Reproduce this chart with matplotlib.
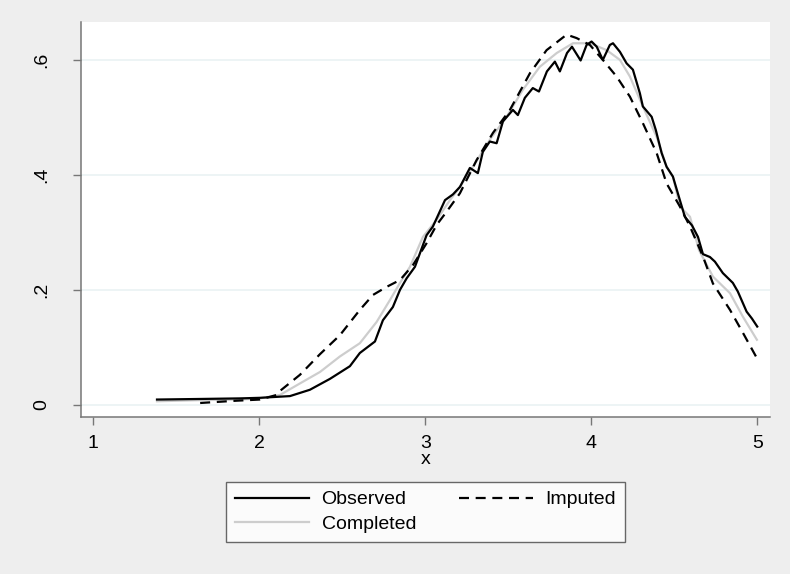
import numpy as np
import matplotlib
matplotlib.use("Agg")
from matplotlib import pyplot as plt

plt.rcParams['font.family'] = ['Liberation Sans', 'DejaVu Sans']

# observed density (black, wiggly)
obs_x = [1.384, 1.643, 1.884, 2.004, 2.185, 2.305, 2.426, 2.546, 2.606, 2.697,
         2.745, 2.805, 2.848, 2.888, 2.938, 3.008, 3.046, 3.119, 3.167, 3.209,
         3.269, 3.317, 3.347, 3.389, 3.430, 3.468, 3.528, 3.558, 3.600, 3.648,
         3.685, 3.733, 3.781, 3.811, 3.854, 3.884, 3.936, 3.972, 4.002, 4.033,
         4.070, 4.112, 4.131, 4.173, 4.213, 4.251, 4.293, 4.311, 4.364, 4.389,
         4.424, 4.454, 4.492, 4.534, 4.564, 4.607, 4.643, 4.673, 4.715, 4.745,
         4.793, 4.853, 4.883, 4.936, 4.968, 5.000]
obs_y = [0.009, 0.010, 0.011, 0.012, 0.015, 0.026, 0.045, 0.067, 0.090, 0.110,
         0.147, 0.170, 0.200, 0.220, 0.240, 0.295, 0.310, 0.356, 0.366, 0.379,
         0.412, 0.403, 0.440, 0.458, 0.455, 0.493, 0.513, 0.504, 0.534, 0.551,
         0.545, 0.580, 0.597, 0.580, 0.612, 0.623, 0.599, 0.626, 0.632, 0.623,
         0.600, 0.626, 0.629, 0.614, 0.594, 0.583, 0.542, 0.519, 0.501, 0.478,
         0.438, 0.414, 0.397, 0.356, 0.327, 0.312, 0.292, 0.262, 0.257, 0.249,
         0.229, 0.212, 0.197, 0.162, 0.150, 0.136]

# completed density (light gray)
comp_x = [1.384, 1.643, 1.884, 2.004, 2.125, 2.245, 2.366, 2.486, 2.606, 2.707,
          2.787, 2.848, 2.908, 2.986, 3.069, 3.149, 3.209, 3.287, 3.389, 3.490,
          3.588, 3.690, 3.792, 3.890, 3.992, 4.093, 4.173, 4.233, 4.311, 4.394,
          4.454, 4.492, 4.534, 4.595, 4.649, 4.733, 4.836, 4.914, 4.998]
comp_y = [0.006, 0.008, 0.009, 0.011, 0.017, 0.037, 0.057, 0.084, 0.107, 0.144,
          0.182, 0.212, 0.240, 0.292, 0.322, 0.356, 0.379, 0.414, 0.461, 0.501,
          0.548, 0.588, 0.612, 0.629, 0.629, 0.617, 0.600, 0.571, 0.519, 0.466,
          0.414, 0.397, 0.345, 0.327, 0.269, 0.223, 0.194, 0.153, 0.113]

# imputed density (dashed)
imp_x = [1.644, 1.864, 2.004, 2.105, 2.125, 2.245, 2.366, 2.486, 2.606, 2.685,
         2.767, 2.848, 2.926, 3.008, 3.069, 3.129, 3.209, 3.310, 3.408, 3.510,
         3.631, 3.731, 3.852, 3.912, 3.992, 4.070, 4.153, 4.233, 4.311, 4.394,
         4.454, 4.534, 4.595, 4.673, 4.733, 4.836, 4.914, 4.998]
imp_y = [0.003, 0.007, 0.009, 0.017, 0.024, 0.052, 0.088, 0.121, 0.165, 0.191,
         0.205, 0.217, 0.243, 0.281, 0.313, 0.336, 0.368, 0.426, 0.473, 0.513,
         0.577, 0.617, 0.644, 0.638, 0.626, 0.600, 0.571, 0.536, 0.490, 0.438,
         0.385, 0.345, 0.310, 0.258, 0.211, 0.165, 0.125, 0.081]

xticks = [1, 2, 3, 4, 5]
yticks = [0, 0.2, 0.4, 0.6]
ylabels = ['0', '.2', '.4', '.6']

bg = '#EEEEEE'
fig = plt.figure(figsize=(7.9, 5.74), dpi=100, facecolor=bg)
ax = fig.add_axes([0.1025, 0.2735, 0.8722, 0.6882])
ax.set_facecolor('white')

l1, = ax.plot(obs_x, obs_y, color='black', lw=1.6, label='Observed')
l2, = ax.plot(comp_x, comp_y, color='#CDCDCD', lw=1.6, label='Completed')
l3, = ax.plot(imp_x, imp_y, color='black', lw=1.6, dashes=(4.5, 3), label='Imputed')
# keep observed on top of completed
l1.set_zorder(3)

ax.set_xlim(0.926, 5.077)
ax.set_ylim(-0.0214, 0.666)
ax.set_xticks(xticks)
ax.set_yticks(yticks)
ax.set_yticklabels(ylabels, rotation=90, va='center')
ax.grid(axis='y', color='#EAF2F3', lw=1.2)
ax.set_axisbelow(True)

for s in ['top', 'right']:
    ax.spines[s].set_visible(False)
for s in ['left', 'bottom']:
    ax.spines[s].set_color('#777777')
    ax.spines[s].set_linewidth(1.1)

ax.tick_params(axis='both', colors='#777777', length=6, width=1, labelcolor='black',
               labelsize=14)
ax.tick_params(axis='y', pad=16)
ax.tick_params(axis='x', pad=7)
ax.set_xlabel('x', fontsize=14, labelpad=-1)

leg = fig.legend([l1, l2, l3], ['Observed', 'Completed', 'Imputed'], ncol=2,
                 loc='upper center', bbox_to_anchor=(0.5386, 1 - 482 / 574),
                 borderaxespad=0, fontsize=14, frameon=True, fancybox=False,
                 handlelength=3.8, handletextpad=0.65, columnspacing=2.2,
                 labelspacing=0.35, borderpad=0.45)
leg.get_frame().set_edgecolor('#444444')
leg.get_frame().set_linewidth(1)
leg.get_frame().set_facecolor('white')

fig.savefig('out.png', dpi=100, facecolor=bg)
